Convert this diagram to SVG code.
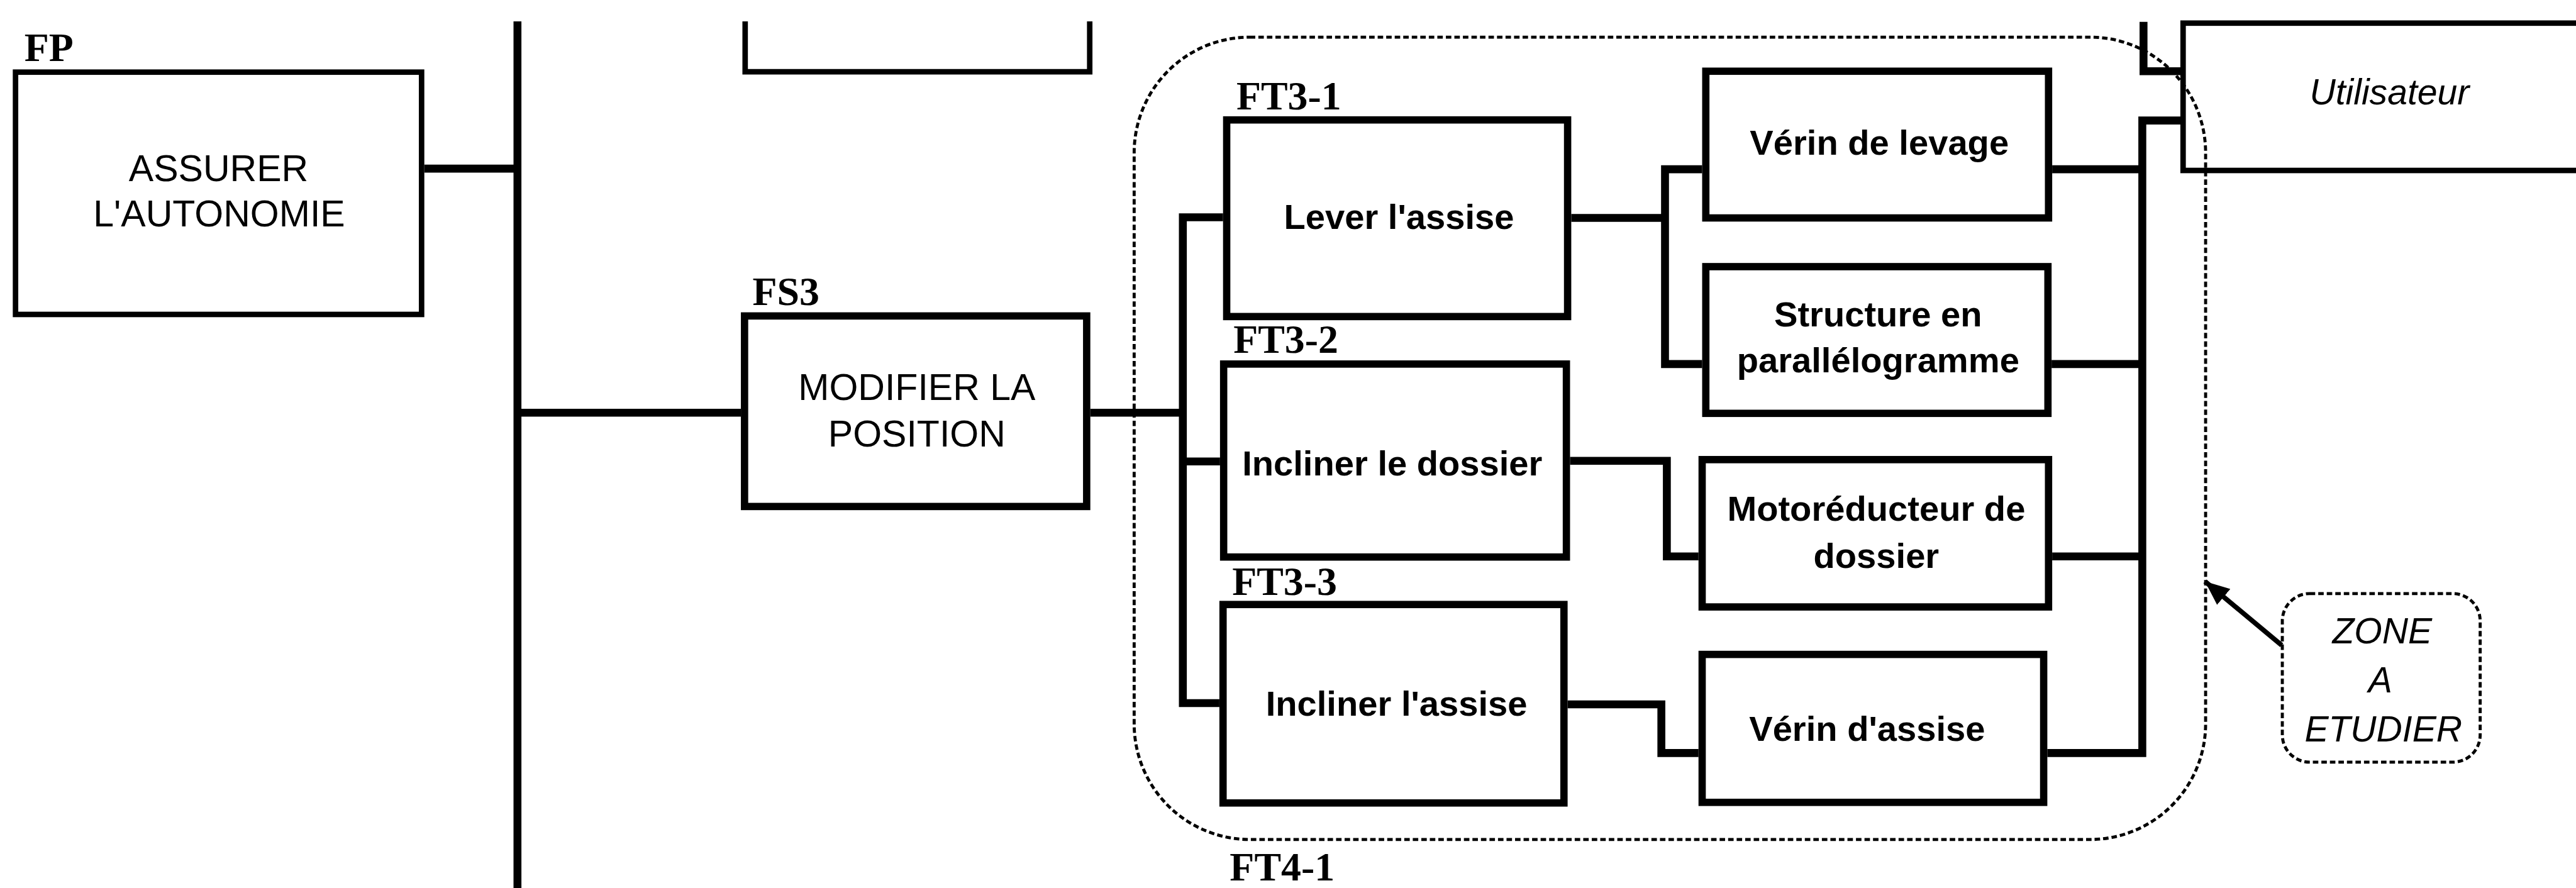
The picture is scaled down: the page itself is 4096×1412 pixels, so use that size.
<svg xmlns="http://www.w3.org/2000/svg" width="4096" height="1412" viewBox="0 0 4096 1412">
<defs>
<style>
.box{fill:#fff;stroke:#000;stroke-width:12}
.thin{fill:#fff;stroke:#000;stroke-width:9}
.c{fill:none;stroke:#000;stroke-width:13;stroke-linejoin:miter}
.dash{fill:none;stroke:#000;stroke-width:5;stroke-dasharray:9 5}
.lbl{font-family:"Liberation Serif",serif;font-weight:bold;font-size:66px;fill:#000}
.bt{font-family:"Liberation Sans",Arial,sans-serif;font-weight:bold;font-size:58px;text-anchor:middle;fill:#000}
.rt{font-family:"Liberation Sans",Arial,sans-serif;font-size:61px;text-anchor:middle;fill:#000}
.it{font-family:"Liberation Sans",Arial,sans-serif;font-style:italic;font-size:59px;text-anchor:middle;fill:#000}
</style>
<marker id="ah" markerUnits="userSpaceOnUse" markerWidth="44" markerHeight="36" refX="40" refY="17" orient="auto">
<path d="M0,0 L40,17 L0,34 Z" fill="#000"/>
</marker>
</defs>
<rect width="4096" height="1412" fill="#fff"/>
<g transform="scale(0.968)">
<g id="connectors">
<path class="c" d="M697,277 H850"/>
<path class="c" d="M850,35 V1470"/>
<path class="c" d="M850,678 H1217"/>
<path class="c" d="M1791,678 H1943"/>
<path class="c" d="M2009,357 H1943 V1155 H2003 M1943,758 H2004"/>
<path class="c" d="M2581,358 H2735 M2796,278 H2735 V598 H2796"/>
<path class="c" d="M2579,757 H2738 V914 H2790"/>
<path class="c" d="M2575,1157 H2729 V1237 H2790"/>
<path class="c" d="M3582,198 H3519 V1237 H3363 M3371,278 H3519 M3370,598 H3519 M3371,914 H3519"/>
<path class="c" d="M3521,36 V117 H3582"/>
<path d="M3748,1060 L3622,955" stroke="#000" stroke-width="8" fill="none" marker-end="url(#ah)"/>
</g>
<g id="fp">
<text class="lbl" x="40" y="100">FP</text>
<rect class="thin" x="25.5" y="118.5" width="667" height="398"/>
<text class="rt" x="359" y="298">ASSURER</text>
<text class="rt" x="360" y="372">L'AUTONOMIE</text>
</g>
<g id="top-box">
<path d="M1224,35 V118 H1790 V35" fill="none" stroke="#000" stroke-width="9"/>
</g>
<g id="fs3">
<text class="lbl" x="1236" y="501">FS3</text>
<rect class="box" x="1223" y="519" width="562" height="313"/>
<text class="rt" x="1506" y="657">MODIFIER LA</text>
<text class="rt" x="1506" y="733">POSITION</text>
</g>
<g id="ft3-1">
<text class="lbl" x="2031" y="180">FT3-1</text>
<rect class="box" x="2015" y="197" width="560" height="323"/>
<text class="bt" x="2298" y="376">Lever l'assise</text>
</g>
<g id="ft3-2">
<text class="lbl" x="2026" y="580">FT3-2</text>
<rect class="box" x="2010" y="598" width="563" height="317"/>
<text class="bt" x="2287" y="781">Incliner le dossier</text>
</g>
<g id="ft3-3">
<text class="lbl" x="2024" y="977">FT3-3</text>
<rect class="box" x="2009" y="993" width="560" height="326"/>
<text class="bt" x="2294" y="1176">Incliner l'assise</text>
</g>
<g id="ft4-1">
<text class="lbl" x="2020" y="1446">FT4-1</text>
</g>
<g id="verin-levage">
<rect class="box" x="2802" y="117" width="563" height="241"/>
<text class="bt" x="3087" y="254">Vérin de levage</text>
</g>
<g id="structure">
<rect class="box" x="2802" y="438" width="562" height="241"/>
<text class="bt" x="3085" y="536">Structure en</text>
<text class="bt" x="3085" y="612">parallélogramme</text>
</g>
<g id="motoreducteur">
<rect class="box" x="2796" y="755" width="569" height="242"/>
<text class="bt" x="3082" y="855">Motoréducteur de</text>
<text class="bt" x="3082" y="933">dossier</text>
</g>
<g id="verin-assise">
<rect class="box" x="2796" y="1075" width="561" height="243"/>
<text class="bt" x="3067" y="1217">Vérin d'assise</text>
</g>
<g id="utilisateur">
<rect class="thin" x="3586" y="38" width="700" height="242"/>
<text class="it" x="3925" y="172">Utilisateur</text>
</g>
<g id="zone-label">
<rect class="dash" x="3749" y="975" width="325" height="277" rx="45" ry="45"/>
<text class="it" x="3913" y="1057">ZONE</text>
<text class="it" x="3910" y="1137">A</text>
<text class="it" x="3915" y="1218">ETUDIER</text>
</g>
<g id="zone">
<rect class="dash" x="1863" y="61" width="1760" height="1318" rx="190" ry="190"/>
</g>
</g>
</svg>
